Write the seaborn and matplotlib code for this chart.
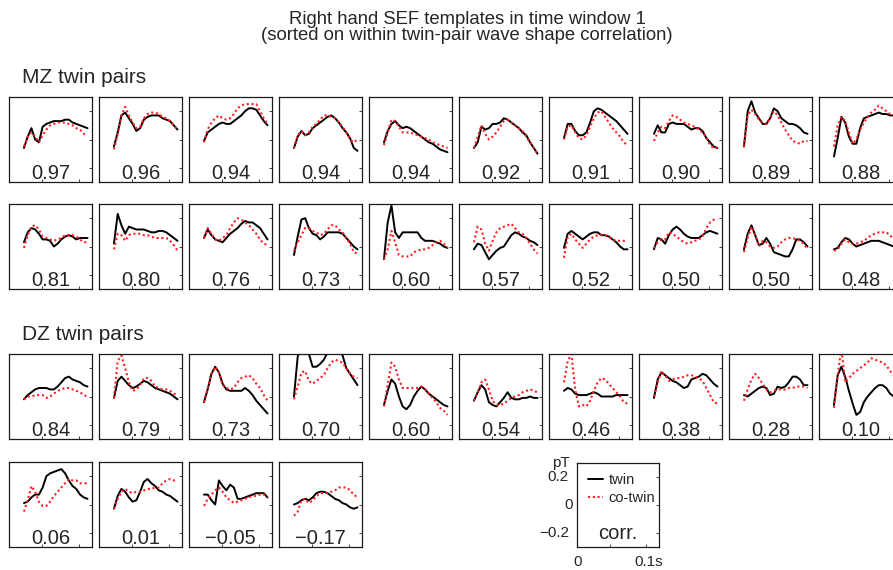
import numpy as np
import pandas as pd
import matplotlib
matplotlib.use("Agg")
import matplotlib.pyplot as plt
from matplotlib.lines import Line2D
import matplotlib.transforms as mtransforms
import seaborn as sns

sns.set_style("white")
plt.rcParams['font.family'] = ['Liberation Sans', 'DejaVu Sans']

# ---------------- data ----------------
time_s = [0.026, 0.031, 0.036, 0.041, 0.046, 0.051, 0.056, 0.061, 0.066,
          0.071, 0.076, 0.081, 0.086, 0.091, 0.096, 0.101, 0.106, 0.111]

mz_corr = [0.97, 0.96, 0.94, 0.94, 0.94, 0.92, 0.91, 0.90, 0.89, 0.88,
           0.81, 0.80, 0.76, 0.73, 0.60, 0.57, 0.52, 0.50, 0.50, 0.48]
dz_corr = [0.84, 0.79, 0.73, 0.70, 0.60, 0.54, 0.46, 0.38, 0.28, 0.10,
           0.06, 0.01, -0.05, -0.17]

mz_twin = [
    [-0.06, 0.02, 0.08, 0.00, -0.02, 0.09, 0.11, 0.12, 0.13, 0.13, 0.13, 0.14, 0.14, 0.12, 0.11, 0.10, 0.09, 0.08],
    [-0.05, 0.05, 0.17, 0.19, 0.15, 0.11, 0.06, 0.08, 0.14, 0.16, 0.17, 0.17, 0.17, 0.15, 0.14, 0.13, 0.10, 0.07],
    [-0.01, 0.05, 0.07, 0.09, 0.11, 0.12, 0.11, 0.11, 0.13, 0.15, 0.17, 0.20, 0.22, 0.22, 0.21, 0.17, 0.13, 0.10],
    [-0.06, 0.02, 0.06, 0.03, 0.04, 0.08, 0.10, 0.12, 0.14, 0.16, 0.17, 0.15, 0.12, 0.08, 0.05, 0.01, -0.06, -0.08],
    [-0.02, 0.06, 0.11, 0.13, 0.10, 0.08, 0.09, 0.08, 0.06, 0.04, 0.02, 0.00, -0.02, -0.03, -0.05, -0.07, -0.08, -0.09],
    [-0.06, -0.02, 0.09, 0.07, 0.08, 0.11, 0.11, 0.12, 0.15, 0.14, 0.12, 0.10, 0.08, 0.05, 0.03, -0.02, -0.06, -0.10],
    [0.01, 0.11, 0.11, 0.06, 0.03, 0.03, 0.05, 0.12, 0.20, 0.22, 0.21, 0.19, 0.17, 0.15, 0.13, 0.10, 0.07, 0.04],
    [0.04, 0.10, 0.05, 0.05, 0.11, 0.12, 0.11, 0.11, 0.11, 0.09, 0.07, 0.08, 0.08, 0.06, 0.01, -0.02, -0.05, -0.06],
    [-0.05, 0.20, 0.27, 0.19, 0.15, 0.11, 0.11, 0.15, 0.22, 0.20, 0.15, 0.13, 0.11, 0.11, 0.10, 0.08, 0.05, 0.04],
    [-0.12, 0.01, 0.16, 0.12, 0.02, -0.03, -0.03, 0.08, 0.15, 0.16, 0.17, 0.18, 0.19, 0.18, 0.18, 0.17, 0.17, 0.16],
    [0.03, 0.10, 0.13, 0.12, 0.09, 0.05, 0.05, 0.04, 0.00, 0.02, 0.05, 0.07, 0.08, 0.07, 0.05, 0.06, 0.06, 0.06],
    [0.02, 0.23, 0.15, 0.09, 0.14, 0.13, 0.12, 0.12, 0.12, 0.11, 0.10, 0.10, 0.11, 0.11, 0.10, 0.08, 0.06, 0.04],
    [0.06, 0.12, 0.08, 0.05, 0.04, 0.03, 0.06, 0.09, 0.11, 0.13, 0.16, 0.18, 0.17, 0.17, 0.15, 0.13, 0.09, 0.05],
    [-0.06, 0.07, 0.19, 0.20, 0.13, 0.09, 0.08, 0.05, 0.07, 0.10, 0.10, 0.10, 0.10, 0.09, 0.06, 0.03, 0.00, -0.02],
    [-0.09, 0.17, 0.29, 0.10, 0.06, 0.10, 0.10, 0.10, 0.10, 0.10, 0.06, 0.04, 0.04, 0.04, 0.03, 0.02, 0.00, -0.01],
    [-0.02, 0.02, 0.01, -0.04, -0.09, -0.06, -0.03, -0.01, 0.00, 0.04, 0.08, 0.10, 0.09, 0.07, 0.06, 0.04, 0.03, 0.01],
    [-0.01, 0.09, 0.11, 0.09, 0.07, 0.05, 0.07, 0.09, 0.10, 0.10, 0.08, 0.08, 0.07, 0.05, 0.03, 0.00, -0.02, -0.02],
    [-0.02, 0.06, 0.05, 0.02, 0.08, 0.12, 0.14, 0.12, 0.09, 0.07, 0.06, 0.06, 0.06, 0.08, 0.10, 0.11, 0.10, 0.09],
    [-0.02, 0.09, 0.15, 0.08, 0.01, 0.02, 0.06, 0.02, -0.04, -0.05, -0.06, -0.07, -0.07, -0.02, 0.05, 0.05, 0.03, 0.00],
    [-0.02, -0.01, 0.03, 0.06, 0.05, 0.02, 0.00, 0.01, 0.02, 0.03, 0.04, 0.04, 0.04, 0.03, 0.02, 0.01, 0.00, 0.00],
]

mz_cotwin = [
    [-0.05, 0.02, 0.05, 0.02, -0.02, 0.03, 0.07, 0.10, 0.11, 0.12, 0.12, 0.12, 0.11, 0.10, 0.08, 0.07, 0.04, 0.03],
    [-0.07, 0.04, 0.17, 0.23, 0.17, 0.12, 0.08, 0.09, 0.15, 0.18, 0.19, 0.19, 0.18, 0.16, 0.15, 0.13, 0.10, 0.07],
    [-0.02, 0.07, 0.12, 0.15, 0.17, 0.15, 0.14, 0.15, 0.18, 0.22, 0.24, 0.25, 0.25, 0.25, 0.25, 0.20, 0.15, 0.11],
    [-0.06, 0.03, 0.06, 0.03, 0.05, 0.09, 0.11, 0.14, 0.17, 0.17, 0.16, 0.15, 0.12, 0.09, 0.05, 0.00, -0.02, 0.00],
    [-0.04, 0.05, 0.14, 0.13, 0.09, 0.05, 0.05, 0.05, 0.04, 0.03, 0.02, 0.01, 0.00, -0.02, -0.03, -0.04, -0.05, -0.06],
    [-0.06, 0.02, 0.10, 0.04, 0.00, 0.02, 0.05, 0.09, 0.13, 0.14, 0.12, 0.10, 0.08, 0.06, 0.02, -0.02, -0.06, -0.10],
    [0.00, 0.09, 0.10, 0.05, 0.01, 0.00, 0.03, 0.09, 0.15, 0.19, 0.20, 0.16, 0.12, 0.08, 0.05, 0.02, -0.02, -0.04],
    [-0.01, 0.05, 0.09, 0.08, 0.13, 0.17, 0.16, 0.14, 0.12, 0.11, 0.10, 0.09, 0.07, 0.05, 0.02, -0.04, -0.06, -0.06],
    [-0.05, 0.17, 0.21, 0.18, 0.14, 0.12, 0.11, 0.15, 0.20, 0.17, 0.12, 0.07, 0.03, -0.01, -0.02, -0.03, -0.01, -0.01],
    [-0.05, 0.10, 0.16, 0.13, 0.05, -0.03, 0.00, 0.07, 0.12, 0.16, 0.19, 0.21, 0.24, 0.22, 0.20, 0.18, 0.17, 0.16],
    [-0.01, 0.08, 0.14, 0.15, 0.12, 0.07, 0.06, 0.05, 0.04, 0.05, 0.06, 0.08, 0.08, 0.08, 0.07, 0.05, 0.03, 0.03],
    [-0.02, 0.09, 0.08, 0.04, 0.08, 0.09, 0.09, 0.09, 0.08, 0.08, 0.07, 0.06, 0.06, 0.06, 0.06, 0.04, 0.01, -0.03],
    [0.06, 0.13, 0.09, 0.05, 0.04, 0.06, 0.08, 0.13, 0.17, 0.20, 0.19, 0.17, 0.15, 0.12, 0.09, 0.05, 0.02, 0.01],
    [-0.03, 0.03, 0.08, 0.13, 0.13, 0.11, 0.10, 0.08, 0.09, 0.12, 0.15, 0.15, 0.12, 0.10, 0.06, 0.02, -0.04, -0.05],
    [-0.09, -0.02, 0.11, 0.03, -0.06, -0.07, -0.07, -0.07, -0.04, -0.03, -0.02, -0.02, -0.01, 0.01, 0.03, 0.04, 0.02, -0.01],
    [0.03, 0.14, 0.12, 0.02, -0.03, 0.04, 0.10, 0.13, 0.14, 0.15, 0.16, 0.13, 0.10, 0.09, 0.06, 0.02, -0.02, -0.05],
    [-0.08, 0.07, 0.09, 0.05, 0.02, -0.01, 0.02, 0.05, 0.07, 0.08, 0.08, 0.08, 0.07, 0.05, 0.04, 0.04, 0.04, 0.04],
    [-0.01, 0.03, 0.05, 0.05, 0.10, 0.09, 0.07, 0.05, 0.03, 0.02, 0.03, 0.04, 0.05, 0.07, 0.13, 0.17, 0.19, 0.19],
    [-0.04, 0.06, 0.14, 0.08, 0.00, 0.04, 0.03, 0.00, -0.01, 0.00, 0.03, 0.05, 0.06, 0.06, 0.05, 0.04, 0.02, -0.02],
    [-0.03, -0.02, 0.02, 0.05, 0.03, 0.02, 0.02, 0.03, 0.04, 0.06, 0.08, 0.09, 0.10, 0.10, 0.10, 0.08, 0.05, 0.04],
]

dz_twin = [
    [-0.02, 0.01, 0.03, 0.05, 0.06, 0.06, 0.06, 0.05, 0.05, 0.07, 0.10, 0.13, 0.14, 0.12, 0.11, 0.10, 0.08, 0.07],
    [-0.01, 0.11, 0.14, 0.11, 0.08, 0.06, 0.07, 0.09, 0.11, 0.10, 0.08, 0.06, 0.05, 0.04, 0.03, 0.02, 0.00, -0.02],
    [-0.04, 0.05, 0.16, 0.21, 0.17, 0.09, 0.05, 0.04, 0.04, 0.04, 0.04, 0.06, 0.04, 0.01, -0.03, -0.06, -0.09, -0.12],
    [0.00, 0.28, 0.36, 0.36, 0.30, 0.21, 0.21, 0.23, 0.26, 0.31, 0.35, 0.36, 0.34, 0.29, 0.20, 0.16, 0.12, 0.08],
    [-0.06, 0.04, 0.12, 0.09, 0.00, -0.07, -0.09, -0.06, 0.00, 0.04, 0.07, 0.05, 0.02, 0.00, -0.02, -0.04, -0.06, -0.07],
    [-0.03, 0.03, 0.08, 0.05, -0.04, -0.06, -0.07, -0.04, -0.01, 0.03, -0.01, -0.02, -0.02, -0.01, -0.01, 0.00, -0.01, -0.01],
    [0.04, 0.06, 0.05, 0.02, 0.01, 0.01, 0.01, 0.02, 0.03, 0.02, 0.00, 0.00, 0.00, 0.00, 0.01, 0.01, 0.01, 0.01],
    [-0.01, 0.12, 0.17, 0.15, 0.13, 0.11, 0.10, 0.08, 0.06, 0.07, 0.12, 0.13, 0.14, 0.16, 0.15, 0.12, 0.09, 0.07],
    [0.01, 0.00, 0.02, 0.04, 0.06, 0.07, 0.06, 0.01, 0.02, 0.07, 0.06, 0.07, 0.10, 0.14, 0.14, 0.12, 0.08, 0.08],
    [-0.06, 0.15, 0.21, 0.14, 0.04, -0.05, -0.13, -0.11, -0.04, 0.00, 0.03, 0.06, 0.08, 0.08, 0.06, 0.02, 0.00, -0.02],
    [0.01, 0.02, 0.05, 0.07, 0.07, 0.12, 0.20, 0.22, 0.23, 0.24, 0.25, 0.22, 0.17, 0.13, 0.11, 0.07, 0.05, 0.04],
    [-0.03, 0.06, 0.11, 0.09, 0.05, 0.02, 0.03, 0.09, 0.16, 0.18, 0.15, 0.13, 0.10, 0.09, 0.07, 0.06, 0.04, 0.02],
    [0.07, 0.07, 0.03, 0.00, 0.17, 0.13, 0.10, 0.14, 0.12, 0.04, 0.04, 0.05, 0.06, 0.07, 0.08, 0.08, 0.08, 0.05],
    [0.00, 0.01, 0.03, 0.04, 0.03, 0.05, 0.08, 0.09, 0.09, 0.08, 0.06, 0.04, 0.03, 0.01, 0.00, -0.02, -0.03, -0.02],
]

dz_cotwin = [
    [-0.02, 0.00, 0.00, 0.01, 0.01, 0.01, -0.01, 0.00, 0.02, 0.04, 0.05, 0.06, 0.06, 0.05, 0.04, 0.03, 0.01, 0.00],
    [-0.01, 0.25, 0.29, 0.20, 0.10, 0.04, 0.05, 0.08, 0.13, 0.13, 0.11, 0.07, 0.06, 0.05, 0.05, 0.04, 0.02, 0.01],
    [-0.04, 0.06, 0.16, 0.21, 0.17, 0.08, 0.06, 0.05, 0.06, 0.10, 0.13, 0.14, 0.15, 0.13, 0.09, 0.06, 0.01, -0.03],
    [-0.02, 0.07, 0.17, 0.18, 0.11, 0.09, 0.11, 0.13, 0.15, 0.20, 0.24, 0.26, 0.25, 0.24, 0.20, 0.16, 0.14, 0.13],
    [-0.07, 0.08, 0.24, 0.21, 0.12, 0.06, 0.06, 0.06, 0.06, 0.06, 0.07, 0.05, 0.02, -0.01, -0.04, -0.08, -0.10, -0.13],
    [-0.03, 0.03, 0.10, 0.12, 0.05, -0.03, -0.06, -0.06, -0.05, -0.03, -0.01, 0.00, 0.01, 0.03, 0.04, 0.05, 0.04, 0.03],
    [0.10, 0.25, 0.30, 0.05, -0.07, -0.06, -0.07, -0.03, 0.04, 0.10, 0.13, 0.12, 0.09, 0.06, 0.03, 0.00, -0.04, -0.05],
    [0.00, 0.10, 0.18, 0.15, 0.11, 0.12, 0.13, 0.13, 0.14, 0.15, 0.15, 0.14, 0.13, 0.11, 0.06, 0.01, -0.04, -0.05],
    [-0.03, 0.05, 0.12, 0.16, 0.13, 0.09, 0.05, 0.03, 0.04, 0.05, 0.05, 0.05, 0.06, 0.06, 0.07, 0.07, 0.07, 0.06],
    [-0.08, 0.15, 0.34, 0.10, 0.13, 0.16, 0.18, 0.20, 0.22, 0.24, 0.27, 0.26, 0.25, 0.24, 0.22, 0.18, 0.15, 0.12],
    [-0.05, 0.03, 0.13, 0.09, 0.02, -0.01, -0.01, 0.02, 0.06, 0.09, 0.12, 0.15, 0.18, 0.17, 0.17, 0.15, 0.15, 0.15],
    [-0.03, 0.04, 0.09, 0.11, 0.09, 0.08, 0.09, 0.09, 0.10, 0.11, 0.11, 0.12, 0.12, 0.15, 0.17, 0.18, 0.17, 0.17],
    [-0.01, 0.04, 0.07, 0.10, 0.12, 0.09, 0.05, 0.03, 0.01, 0.02, 0.03, 0.04, 0.05, 0.06, 0.06, 0.07, 0.07, 0.05],
    [-0.08, -0.05, 0.03, 0.04, 0.01, 0.03, 0.06, 0.08, 0.08, 0.08, 0.09, 0.10, 0.12, 0.12, 0.12, 0.10, 0.07, 0.05],
]

# ---------------- style ----------------
W_PX, H_PX = 893, 570
TXT = '#262626'
RED = '#ff1f1f'
TWIN_KW = dict(color='black', linewidth=1.4)
CO_KW = dict(color=RED, linewidth=1.5, linestyle=(0, (1, 1.3)))

fig = plt.figure(figsize=(W_PX / 100, H_PX / 100), dpi=100)


def add_panel(left, top, w=83, h=85):
    return fig.add_axes([left / W_PX, 1 - (top + h) / H_PX, w / W_PX, h / H_PX])


def style_axes(ax):
    ax.set_xlim(0.006, 0.117)
    ax.set_ylim(-0.3, 0.3)
    ax.set_xticks([0.05, 0.1])
    ax.set_yticks([-0.2, 0.0, 0.2])
    ax.tick_params(direction='in', length=2.5, width=0.6, color='#222222',
                   left=False, right=True, top=False, bottom=True,
                   labelleft=False, labelbottom=False, labelright=False)
    ax.set_xlabel('')
    ax.set_ylabel('')
    for s in ax.spines.values():
        s.set_visible(True)
        s.set_linewidth(0.9)
        s.set_color('#1a1a1a')
    ax.set_facecolor('white')


def fmt(c):
    return f"{c:.2f}".replace('-', '\u2212')


def draw_panel(ax, twin, cotwin, corr):
    df = pd.DataFrame({'t': time_s, 'twin': twin, 'cotwin': cotwin})
    sns.lineplot(data=df, x='t', y='twin', ax=ax, estimator=None,
                 sort=False, errorbar=None, **TWIN_KW)
    sns.lineplot(data=df, x='t', y='cotwin', ax=ax, estimator=None,
                 sort=False, errorbar=None, **CO_KW)
    style_axes(ax)
    ax.text(0.5, 0.04, fmt(corr), transform=ax.transAxes, ha='center',
            va='baseline', fontsize=14.5, color=TXT)


row_tops_mz = [97, 204]
row_tops_dz = [354, 462]

for i, (tw, co, c) in enumerate(zip(mz_twin, mz_cotwin, mz_corr)):
    r, col = divmod(i, 10)
    ax = add_panel(9 + 90 * col, row_tops_mz[r])
    draw_panel(ax, tw, co, c)

for i, (tw, co, c) in enumerate(zip(dz_twin, dz_cotwin, dz_corr)):
    r, col = divmod(i, 10)
    ax = add_panel(9 + 90 * col, row_tops_dz[r])
    draw_panel(ax, tw, co, c)

# legend / scale panel
lax = add_panel(577, 463, 82, 84)
style_axes(lax)
h1 = Line2D([], [], **TWIN_KW)
h2 = Line2D([], [], **CO_KW)
lax.legend([h1, h2], ['twin', 'co-twin'], loc='upper left',
           bbox_to_anchor=((588 - 577) / 82, (547 - 473) / 84),
           frameon=False, fontsize=10.5, handlelength=1.0,
           handletextpad=0.4, labelspacing=0.25, borderpad=0,
           borderaxespad=0, labelcolor=TXT)
lax.text(0.5, 0.095, 'corr.', transform=lax.transAxes, ha='center',
         va='baseline', fontsize=14.5, color=TXT)
ytr = mtransforms.blended_transform_factory(lax.transAxes, lax.transData)
lax.text(-0.1, 0.2, '0.2', transform=ytr, ha='right', va='center', fontsize=11, color=TXT)
lax.text(-0.05, 0.0, '0', transform=ytr, ha='right', va='center', fontsize=11, color=TXT)
lax.text(-0.1, -0.2, '\u22120.2', transform=ytr, ha='right', va='center', fontsize=11, color=TXT)
lax.text(-0.2, 1.0, 'pT', transform=lax.transAxes, ha='center', va='center', fontsize=11, color=TXT)
lax.text(0.01, -0.18, '0', transform=lax.transAxes, ha='center', va='center', fontsize=11, color=TXT)
lax.text(0.88, -0.18, '0.1s', transform=lax.transAxes, ha='center', va='center', fontsize=11, color=TXT)

# titles and group labels
fig.text(467 / W_PX, 1 - 24 / H_PX, 'Right hand SEF templates in time window 1',
         ha='center', va='baseline', fontsize=13.3, color=TXT)
fig.text(467 / W_PX, 1 - 40 / H_PX, '(sorted on within twin-pair wave shape correlation)',
         ha='center', va='baseline', fontsize=13.3, color=TXT)
fig.text(22 / W_PX, 1 - 83 / H_PX, 'MZ twin pairs', ha='left', va='baseline',
         fontsize=15, color=TXT)
fig.text(22 / W_PX, 1 - 340 / H_PX, 'DZ twin pairs', ha='left', va='baseline',
         fontsize=15, color=TXT)

fig.savefig('out.png', dpi=100, facecolor='white')
